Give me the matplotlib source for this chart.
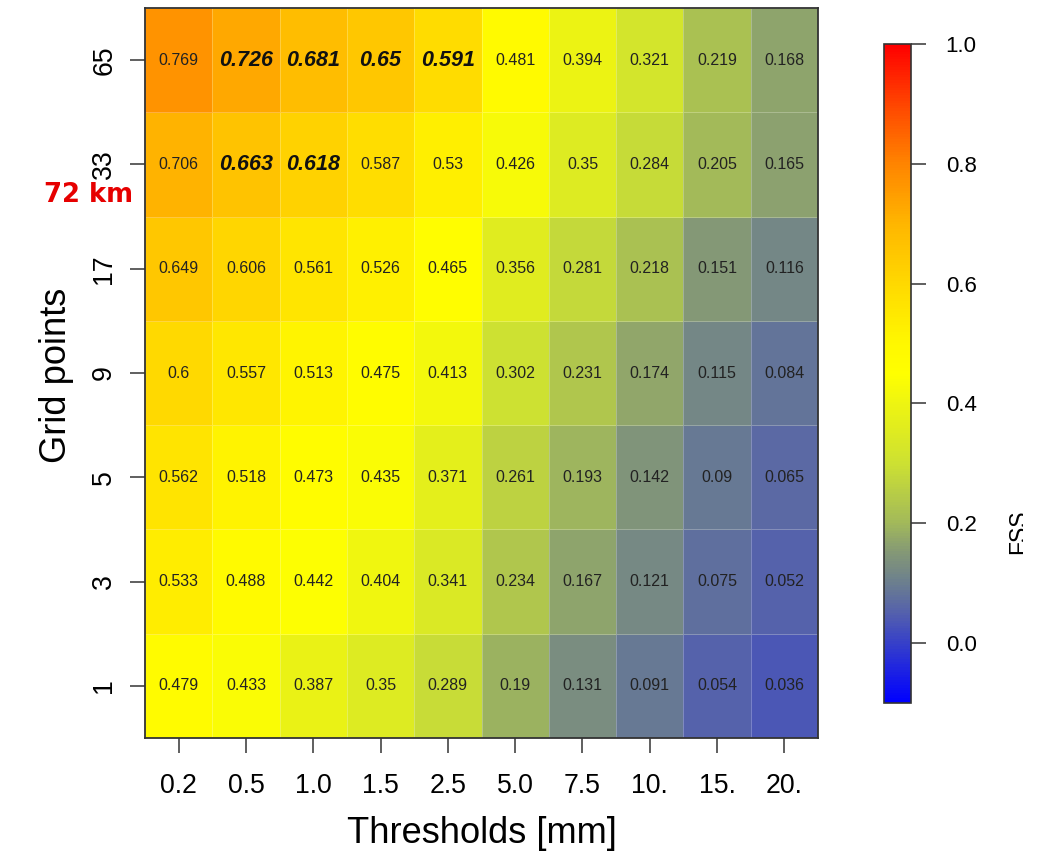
import numpy as np
import matplotlib
matplotlib.use("Agg")
import matplotlib.pyplot as plt
from matplotlib.colors import LinearSegmentedColormap, Normalize
from matplotlib.patches import Rectangle
from matplotlib import font_manager as fm

# ---------------- data ----------------
thresholds = ["0.2", "0.5", "1.0", "1.5", "2.5", "5.0", "7.5", "10.", "15.", "20."]
grid_points = ["1", "3", "5", "9", "17", "33", "65"]   # bottom -> top

fss_1 = [0.479, 0.433, 0.387, 0.35, 0.289, 0.19, 0.131, 0.091, 0.054, 0.036]
fss_3 = [0.533, 0.488, 0.442, 0.404, 0.341, 0.234, 0.167, 0.121, 0.075, 0.052]
fss_5 = [0.562, 0.518, 0.473, 0.435, 0.371, 0.261, 0.193, 0.142, 0.09, 0.065]
fss_9 = [0.6, 0.557, 0.513, 0.475, 0.413, 0.302, 0.231, 0.174, 0.115, 0.084]
fss_17 = [0.649, 0.606, 0.561, 0.526, 0.465, 0.356, 0.281, 0.218, 0.151, 0.116]
fss_33 = [0.706, 0.663, 0.618, 0.587, 0.53, 0.426, 0.35, 0.284, 0.205, 0.165]
fss_65 = [0.769, 0.726, 0.681, 0.65, 0.591, 0.481, 0.394, 0.321, 0.219, 0.168]

# highlighted (bold italic) cells: (grid point label, threshold label)
highlight = [("65", "0.5"), ("65", "1.0"), ("65", "1.5"), ("65", "2.5"),
             ("33", "0.5"), ("33", "1.0")]

cbar_ticks = [0.0, 0.2, 0.4, 0.6, 0.8, 1.0]
vmin, vmax = -0.1, 1.0

# ---------------- fonts ----------------
names = {f.name for f in fm.fontManager.ttflist}
if "Liberation Sans Narrow" in names:
    NFAM, k = "Liberation Sans Narrow", 1.0
else:
    NFAM, k = "Liberation Sans", 0.87
FAM = "Liberation Sans"
plt.rcParams["font.family"] = [FAM, "DejaVu Sans"]

# ---------------- colormap ----------------
nodes = [
    (-0.10, (0, 0, 255)),
    (0.00, (55, 65, 200)),
    (0.05, (85, 97, 172)),
    (0.10, (108, 127, 142)),
    (0.15, (132, 152, 118)),
    (0.20, (162, 185, 90)),
    (0.30, (205, 225, 50)),
    (0.45, (255, 255, 0)),
    (0.50, (255, 248, 0)),
    (0.60, (255, 217, 0)),
    (0.70, (255, 182, 0)),
    (0.80, (255, 133, 0)),
    (0.90, (255, 70, 0)),
    (1.00, (255, 0, 0)),
]
cmap = LinearSegmentedColormap.from_list(
    "fss", [((v - vmin) / (vmax - vmin), tuple(c / 255 for c in rgb)) for v, rgb in nodes], N=256)
norm = Normalize(vmin=vmin, vmax=vmax)

Z = np.array([fss_1, fss_3, fss_5, fss_9, fss_17, fss_33, fss_65])
ny, nx = Z.shape

W, H = 1042, 858
fig = plt.figure(figsize=(W / 100, H / 100), dpi=100)
ax = fig.add_axes([145 / W, (H - 738) / H, (818 - 145) / W, (738 - 8) / H])

mesh = ax.pcolormesh(np.arange(nx + 1), np.arange(ny + 1), Z, cmap=cmap, norm=norm,
                     edgecolors=(1, 1, 1, 0.25), linewidth=0.7)

def fmt(v):
    return f"{v:.3f}".rstrip("0")

hl = {(grid_points.index(g), thresholds.index(t)) for g, t in highlight}
for j in range(ny):
    for i in range(nx):
        if (j, i) in hl:
            ax.text(i + 0.5, j + 0.5, fmt(Z[j, i]), ha="center", va="center",
                    fontsize=15.5, fontweight="bold", fontstyle="italic", color="#111111")
        else:
            ax.text(i + 0.5, j + 0.5, fmt(Z[j, i]), ha="center", va="center",
                    fontsize=11.5, color="#222222")

ax.set_xlim(0, nx)
ax.set_ylim(0, ny)
ax.set_xticks(np.arange(nx) + 0.5)
ax.set_xticklabels(thresholds, fontsize=22 * k, family=NFAM)
ax.set_yticks(np.arange(ny) + 0.5)
ax.set_yticklabels(grid_points, fontsize=22 * k, family=NFAM, rotation=90, va="center")
ax.tick_params(axis="both", length=11, width=1.2, color="#444444")
ax.tick_params(axis="x", pad=14)
ax.tick_params(axis="y", pad=9)
for sp in ax.spines.values():
    sp.set_color("#333333")
    sp.set_linewidth(1.3)

ax.set_xlabel("Thresholds [mm]", fontsize=30 * k, family=NFAM)
ax.xaxis.set_label_coords(0.5, (738 - 816) / 730)
ax.set_ylabel("Grid points", fontsize=30 * k, family=NFAM)
ax.yaxis.set_label_coords((74 - 145) / 673, 0.497)

fig.text(133 / W, 1 - 195 / H, "72 km", color="#e60000", fontsize=18.6,
         family="DejaVu Sans", fontweight="bold", ha="right", va="center")

# colorbar
cax = fig.add_axes([884 / W, (H - 703) / H, 27 / W, (703 - 44) / H])
cb = fig.colorbar(mesh, cax=cax)
cb.set_ticks(cbar_ticks)
cb.set_ticklabels([f"{t:.1f}" for t in cbar_ticks])
cax.tick_params(length=11, width=1.2, color="#444444", labelsize=16, pad=14)
cb.outline.set_edgecolor("#333333")
cb.outline.set_linewidth(1.2)

fig.text(1007 / W, 1 - 532 / H, "FSS", rotation=90, fontsize=16.5, ha="left", va="center")
fig.add_artist(Rectangle((1023 / W, 0), 1, 1, transform=fig.transFigure,
                         facecolor="white", edgecolor="none", zorder=20))

fig.savefig("out.png", dpi=100, facecolor="white")
